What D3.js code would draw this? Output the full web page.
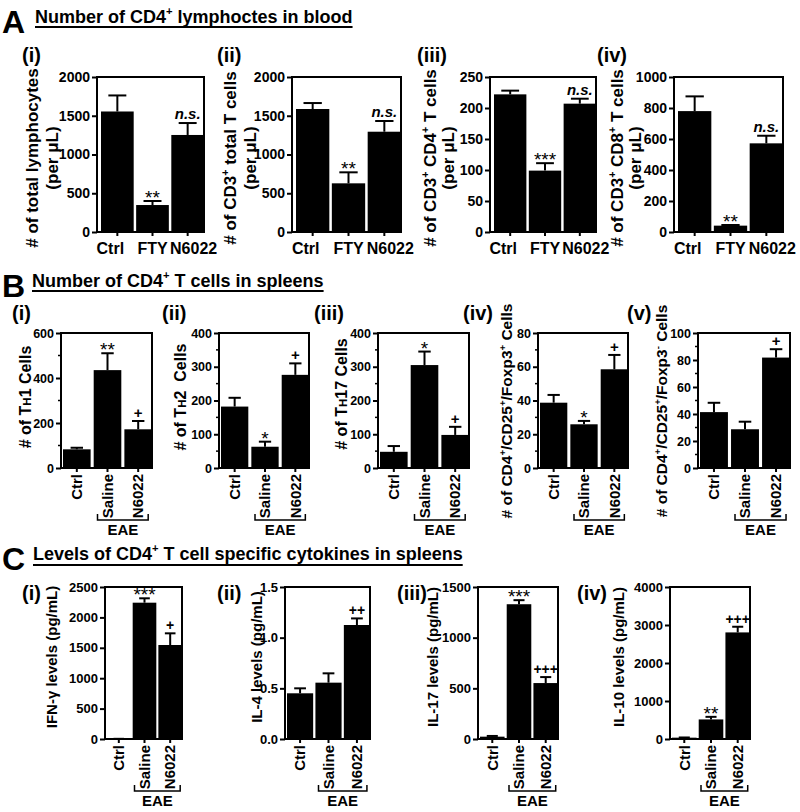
<!DOCTYPE html>
<html>
<head>
<meta charset="utf-8">
<script src="https://cdn.jsdelivr.net/npm/d3@7"></script>
<style>
  body { margin: 0; background: #fff; }
  svg { display: block; }
  text { font-family: "Liberation Sans", Arial, sans-serif; fill: #000; }
</style>
</head>
<body>
<svg id="fig" width="800" height="812"></svg>
<script>
// Data (mean, SEM, significance marks)

const BLOOD_GROUPS  = ["Ctrl", "FTY", "N6022"];
const SPLEEN_GROUPS = ["Ctrl", "Saline", "N6022"];

// A: blood counts per uL
const A1_MEAN = [1555, 348, 1252], A1_SEM = [207, 52, 154], A1_SIG = ["", "**", "n.s."];
const A2_MEAN = [1587, 628, 1294], A2_SEM = [77, 142, 138],  A2_SIG = ["", "**", "n.s."];
const A3_MEAN = [222, 99, 207],    A3_SEM = [6, 12, 8],      A3_SIG = ["", "***", "n.s."];
const A4_MEAN = [780, 41, 572],    A4_SEM = [95, 4, 49],     A4_SIG = ["", "**", "n.s."];
const A12_TICKS = [0, 500, 1000, 1500, 2000];
const A3_TICKS  = [0, 50, 100, 150, 200, 250];
const A4_TICKS  = [0, 200, 400, 600, 800, 1000];

// B: spleen T cell subsets
const B1_MEAN = [83, 435, 172],      B1_SEM = [7, 75, 37],     B1_SIG = ["", "**", "+"];
const B2_MEAN = [182, 63, 276],      B2_SEM = [26, 15, 34],    B2_SIG = ["", "*", "+"];
const B3_MEAN = [48, 305, 98],       B3_SEM = [17, 40, 24],    B3_SIG = ["", "*", "+"];
const B4_MEAN = [38.7, 25.9, 58.5],  B4_SEM = [4.6, 2.0, 8.5], B4_SIG = ["", "*", "+"];
const B5_MEAN = [41.4, 28.7, 81.8],  B5_SEM = [6.9, 5.6, 6.2], B5_SIG = ["", "", "+"];
const B1_TICKS = [0, 200, 400, 600];
const B23_TICKS = [0, 100, 200, 300, 400];
const B4_TICKS = [0, 20, 40, 60, 80];
const B5_TICKS = [0, 20, 40, 60, 80, 100];

// C: cytokine levels (pg/mL)
const C1_MEAN = [3, 2242, 1546],        C1_SEM = [0, 72, 192],          C1_SIG = ["", "***", "+"];
const C2_MEAN = [0.451, 0.556, 1.125],  C2_SEM = [0.049, 0.092, 0.065], C2_SIG = ["", "", "++"];
const C3_MEAN = [23, 1330, 552],        C3_SEM = [7, 40, 59],           C3_SIG = ["", "***", "+++"];
const C4_MEAN = [35, 515, 2805],        C4_SEM = [5, 68, 149],          C4_SIG = ["", "**", "+++"];
const C1_TICKS = [0, 500, 1000, 1500, 2000, 2500];
const C2_TICKS = [0, 0.5, 1.0, 1.5];
const C3_TICKS = [0, 500, 1000, 1500];
const C4_TICKS = [0, 1000, 2000, 3000, 4000];

const svg = d3.select("#fig");
const FONT = "'Liberation Sans', Arial, sans-serif";

// minimal markup: ^{..} superscript, ~{..} small letters on the baseline
function rich(t, str, size) {
  let back = 0;
  str.split(/(\^\{[^}]*\}|~\{[^}]*\})/).filter(s => s).forEach(s => {
    if (s.startsWith("^{")) {
      t.append("tspan").attr("font-size", size * 0.62).attr("dy", -size * 0.42).text(s.slice(2, -1));
      back = size * 0.42;
    } else if (s.startsWith("~{")) {
      const sp = t.append("tspan").attr("font-size", size * 0.72).text(s.slice(2, -1));
      if (back) { sp.attr("dy", back); back = 0; }
    } else {
      const sp = t.append("tspan").text(s);
      if (back) { sp.attr("dy", back); back = 0; }
    }
  });
  return t;
}

function header(letter, title, x, base, under) {
  svg.append("text").attr("x", 2).attr("y", base + 10)
    .attr("font-size", 32).attr("font-weight", "bold").text(letter);
  const t = svg.append("text").attr("x", x).attr("y", base)
    .attr("font-size", 18).attr("font-weight", "bold");
  rich(t, title, 18);
  const w = t.node().getComputedTextLength();
  svg.append("line").attr("x1", x).attr("x2", x + w)
    .attr("y1", under).attr("y2", under)
    .attr("stroke", "#000").attr("stroke-width", 2);
}

function vlabel(str, cx, cy, size) {
  const t = svg.append("text")
    .attr("transform", `translate(${cx},${cy}) rotate(-90)`)
    .attr("y", size * 0.35).attr("text-anchor", "middle")
    .attr("font-size", size).attr("font-weight", "bold");
  rich(t, str, size);
}

function panel(p) {
  const g = svg.append("g");
  const y = d3.scaleLinear().domain([0, p.ticks[p.ticks.length - 1]]).range([p.y1, p.y0]);
  const x = d3.scaleBand().domain(p.cats).range([p.x0 + p.inset, p.x1]).paddingInner(p.gap);
  const bw = x.bandwidth();
  const cx = i => x(p.cats[i]) + bw / 2;

  g.selectAll("rect.bar").data(p.mean).join("rect")
    .attr("class", "bar")
    .attr("x", (d, i) => x(p.cats[i]))
    .attr("y", d => y(d))
    .attr("width", bw)
    .attr("height", d => Math.max(0, p.y1 - y(d)))
    .attr("fill", "#000");

  // upper error whiskers
  const cap = bw * p.cap / 2;
  p.mean.forEach((m, i) => {
    const top = y(m + p.sem[i]);
    g.append("line").attr("x1", cx(i)).attr("x2", cx(i)).attr("y1", y(m)).attr("y2", top)
      .attr("stroke", "#000").attr("stroke-width", 2);
    g.append("line").attr("x1", cx(i) - cap).attr("x2", cx(i) + cap).attr("y1", top).attr("y2", top)
      .attr("stroke", "#000").attr("stroke-width", 2);

    const s = p.sig[i];
    if (!s) return;
    const t = g.append("text").attr("x", cx(i)).attr("text-anchor", "middle").text(s);
    if (s === "n.s.") {
      t.attr("y", top - 4).attr("font-size", 15).attr("font-weight", "bold").attr("font-style", "italic");
    } else if (s[0] === "*") {
      t.attr("y", top + 3).attr("font-size", 19);
    } else {
      t.attr("y", top - 3).attr("font-size", p.plus).attr("font-weight", "bold");
    }
  });

  // frame
  g.append("rect").attr("x", p.x0).attr("y", p.y0)
    .attr("width", p.x1 - p.x0).attr("height", p.y1 - p.y0)
    .attr("fill", "none").attr("stroke", "#000").attr("stroke-width", 2);

  // y axis
  const yAx = g.append("g").attr("transform", `translate(${p.x0},0)`)
    .call(d3.axisLeft(y).tickValues(p.ticks).tickSize(5).tickPadding(2).tickFormat(d3.format(p.fmt)));
  yAx.select(".domain").remove();
  yAx.selectAll("line").attr("stroke", "#000").attr("stroke-width", 2);
  yAx.selectAll("text").attr("font-size", p.tickSize).attr("font-weight", "bold")
    .attr("font-family", FONT).attr("fill", "#000");

  if (p.minor) {
    const minors = d3.range(p.minor, p.ticks[p.ticks.length - 1], p.minor)
      .filter(v => !p.ticks.some(t => Math.abs(t - v) < 1e-9));
    g.selectAll("line.minor").data(minors).join("line")
      .attr("class", "minor")
      .attr("x1", p.x0 - 3).attr("x2", p.x0)
      .attr("y1", d => y(d)).attr("y2", d => y(d))
      .attr("stroke", "#000").attr("stroke-width", 1.5);
  }

  // x ticks
  g.selectAll("line.xt").data(p.cats).join("line")
    .attr("class", "xt")
    .attr("x1", (d, i) => cx(i)).attr("x2", (d, i) => cx(i))
    .attr("y1", p.y1).attr("y2", p.y1 + 4)
    .attr("stroke", "#000").attr("stroke-width", 2);

  if (p.rotated) {
    p.cats.forEach((c, i) => {
      g.append("text")
        .attr("transform", `translate(${cx(i)},${p.y1 + 6}) rotate(-90)`)
        .attr("y", 15 * 0.35).attr("text-anchor", "end")
        .attr("font-size", 15).attr("font-weight", "bold").text(c);
    });
    const by = p.y1 + 52;
    const bx0 = cx(1) - 10, bx1 = cx(2) + 10;
    g.append("path")
      .attr("d", `M${bx0},${by - 6}V${by}H${bx1}V${by - 6}`)
      .attr("fill", "none").attr("stroke", "#000").attr("stroke-width", 1.5);
    g.append("text").attr("x", (cx(1) + cx(2)) / 2).attr("y", by + 15)
      .attr("text-anchor", "middle").attr("font-size", 15).attr("font-weight", "bold").text("EAE");
  } else {
    const shift = [-7, 0, 6];
    p.cats.forEach((c, i) => {
      g.append("text").attr("x", cx(i) + shift[i]).attr("y", p.y1 + 22)
        .attr("text-anchor", "middle").attr("font-size", 16).attr("font-weight", "bold").text(c);
    });
  }

  // panel tag and y label
  svg.append("text").attr("x", p.tagX).attr("y", p.tagY)
    .attr("font-size", 20).attr("font-weight", "bold").text(p.tag);
  p.ylab.forEach((l, k) => vlabel(l, p.labX[k], p.labY, p.labSize));
}

// Headers
header("A", "Number of CD4^{+} lymphoctes in blood", 35, 23, 27);
header("B", "Number of CD4^{+} T cells in spleens", 32, 287, 291);
header("C", "Levels of CD4^{+} T cell specific cytokines in spleens", 33, 560, 565);

// Row A
const rowA = { y0: 77, y1: 232, inset: 4, gap: 0.07, cap: 0.55, fmt: "d", cats: BLOOD_GROUPS,
               rotated: false, tagY: 62, labY: 158, labSize: 17, plus: 15, tickSize: 14 };
panel({ ...rowA, x0: 97,  x1: 204, ticks: A12_TICKS, mean: A1_MEAN, sem: A1_SEM, sig: A1_SIG,
        tag: "(i)", tagX: 22, ylab: ["# of total lymphocytes", "(per \u03bcL)"], labX: [32, 52] });
panel({ ...rowA, x0: 292, x1: 401, ticks: A12_TICKS, mean: A2_MEAN, sem: A2_SEM, sig: A2_SIG,
        tag: "(ii)", tagX: 217, ylab: ["# of CD3^{+} total T cells", "(per \u03bcL)"], labX: [230, 250] });
panel({ ...rowA, x0: 490, x1: 596, ticks: A3_TICKS, mean: A3_MEAN, sem: A3_SEM, sig: A3_SIG,
        tag: "(iii)", tagX: 417, ylab: ["# of CD3^{+} CD4^{+} T cells", "(per \u03bcL)"], labX: [430, 448] });
panel({ ...rowA, x0: 674, x1: 783, ticks: A4_TICKS, mean: A4_MEAN, sem: A4_SEM, sig: A4_SIG,
        tag: "(iv)", tagX: 597, ylab: ["# of CD3^{+} CD8^{+} T cells", "(per \u03bcL)"], labX: [617, 635] });

// Row B
const rowB = { y0: 333, y1: 468, inset: 2, gap: 0.1, cap: 0.45, fmt: "d", cats: SPLEEN_GROUPS,
               rotated: true, tagY: 320, labSize: 16, plus: 15, tickSize: 12.5 };
panel({ ...rowB, x0: 61,  x1: 152, ticks: B1_TICKS, minor: 100, mean: B1_MEAN, sem: B1_SEM, sig: B1_SIG,
        tag: "(i)", tagX: 12, ylab: ["# of T~{H}1 Cells"], labX: [25], labY: 397 });
panel({ ...rowB, x0: 219, x1: 309, ticks: B23_TICKS, minor: 50, mean: B2_MEAN, sem: B2_SEM, sig: B2_SIG,
        tag: "(ii)", tagX: 162, ylab: ["# of T~{H}2\u00a0 Cells"], labX: [180], labY: 397 });
panel({ ...rowB, x0: 378, x1: 469, ticks: B23_TICKS, minor: 50, mean: B3_MEAN, sem: B3_SEM, sig: B3_SIG,
        tag: "(iii)", tagX: 314, ylab: ["# of T~{H}17 Cells"], labX: [341], labY: 394 });
panel({ ...rowB, x0: 538, x1: 628, ticks: B4_TICKS, minor: 10, mean: B4_MEAN, sem: B4_SEM, sig: B4_SIG,
        tag: "(iv)", tagX: 463, ylab: ["# of CD4^{+}/CD25^{+}/Foxp3^{+} Cells"], labX: [507], labY: 411, labSize: 15.5 });
panel({ ...rowB, x0: 698, x1: 790, ticks: B5_TICKS, minor: 10, mean: B5_MEAN, sem: B5_SEM, sig: B5_SIG,
        tag: "(v)", tagX: 627, ylab: ["# of CD4^{+}/CD25^{+}/Foxp3^{-} Cells"], labX: [662], labY: 411, labSize: 15.5 });

// Row C
const rowC = { y0: 587, y1: 739, inset: 2, gap: 0.08, cap: 0.45, fmt: "d", cats: SPLEEN_GROUPS,
               rotated: true, tagY: 600, labY: 657, labSize: 15, plus: 14, tickSize: 13 };
panel({ ...rowC, x0: 105, x1: 182, ticks: C1_TICKS, mean: C1_MEAN, sem: C1_SEM, sig: C1_SIG,
        tag: "(i)", tagX: 22, ylab: ["IFN-\u03b3 levels (pg/mL)"], labX: [52] });
panel({ ...rowC, x0: 285, x1: 370, ticks: C2_TICKS, fmt: ".1f", mean: C2_MEAN, sem: C2_SEM, sig: C2_SIG,
        tag: "(ii)", tagX: 217, ylab: ["IL-4 levels (pg/mL)"], labX: [257] });
panel({ ...rowC, x0: 478, x1: 558, ticks: C3_TICKS, mean: C3_MEAN, sem: C3_SEM, sig: C3_SIG,
        tag: "(iii)", tagX: 397, ylab: ["IL-17 levels (pg/mL)"], labX: [433] });
panel({ ...rowC, x0: 670, x1: 750, ticks: C4_TICKS, mean: C4_MEAN, sem: C4_SEM, sig: C4_SIG,
        tag: "(iv)", tagX: 577, ylab: ["IL-10 levels (pg/mL)"], labX: [619] });
</script>
</body>
</html>
